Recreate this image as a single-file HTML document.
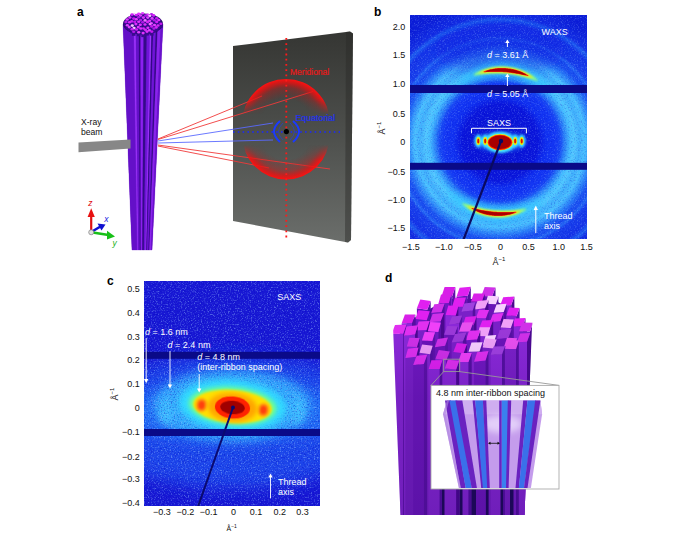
<!DOCTYPE html>
<html><head><meta charset="utf-8">
<style>
html,body{margin:0;padding:0;background:#fff;width:681px;height:536px;overflow:hidden}
svg{display:block;font-family:"Liberation Sans",sans-serif}
</style></head><body>
<svg width="681" height="536" viewBox="0 0 681 536">
<defs>
  <filter id="b1" filterUnits="userSpaceOnUse" x="0" y="0" width="681" height="536"><feGaussianBlur stdDeviation="1"/></filter>
  <filter id="b2" filterUnits="userSpaceOnUse" x="0" y="0" width="681" height="536"><feGaussianBlur stdDeviation="2"/></filter>
  <filter id="b3" filterUnits="userSpaceOnUse" x="0" y="0" width="681" height="536"><feGaussianBlur stdDeviation="3"/></filter>
  <filter id="b5" filterUnits="userSpaceOnUse" x="0" y="0" width="681" height="536"><feGaussianBlur stdDeviation="5"/></filter>
  <filter id="b8" filterUnits="userSpaceOnUse" x="0" y="0" width="681" height="536"><feGaussianBlur stdDeviation="8"/></filter>
  <linearGradient id="scr" x1="0" y1="0" x2="0" y2="1">
    <stop offset="0" stop-color="#353633"/><stop offset="0.5" stop-color="#4e504d"/><stop offset="1" stop-color="#6b6e6b"/>
  </linearGradient>
  <clipPath id="cb"><rect x="410" y="15" width="177" height="224"/></clipPath>
  <clipPath id="cc"><rect x="144" y="281" width="176" height="225"/></clipPath>
  <radialGradient id="rgB" gradientUnits="userSpaceOnUse" cx="500" cy="142" r="140">
    <stop offset="0" stop-color="#0a12d0"/>
    <stop offset="0.27" stop-color="#0a16dc"/>
    <stop offset="0.33" stop-color="#1030f0"/>
    <stop offset="0.40" stop-color="#1438f4"/>
    <stop offset="0.43" stop-color="#1848f4"/>
    <stop offset="0.46" stop-color="#2a80f8"/>
    <stop offset="0.50" stop-color="#44bcff"/>
    <stop offset="0.53" stop-color="#50c8ff"/>
    <stop offset="0.57" stop-color="#40b0fc"/>
    <stop offset="0.61" stop-color="#48c0ff"/>
    <stop offset="0.66" stop-color="#2a80f8"/>
    <stop offset="0.70" stop-color="#1a50f0"/>
    <stop offset="0.72" stop-color="#1a50f0"/>
    <stop offset="0.74" stop-color="#2468f4"/>
    <stop offset="0.76" stop-color="#1840ec"/>
    <stop offset="0.84" stop-color="#1434e8"/>
    <stop offset="0.875" stop-color="#2060f0"/>
    <stop offset="0.9" stop-color="#1430e4"/>
    <stop offset="1" stop-color="#0c1ed8"/>
  </radialGradient>
  <filter id="noise" filterUnits="userSpaceOnUse" x="0" y="0" width="681" height="536">
    <feTurbulence type="fractalNoise" baseFrequency="0.9" numOctaves="1" seed="4" result="t"/>
    <feColorMatrix in="t" type="matrix" values="0 0 0 0 1  0 0 0 0 1  0 0 0 0 1  0 0 0 -2.2 1.35" />
  </filter>
  <clipPath id="cd"><polygon points="385,280 540,280 532,326 524.5,515 400.5,515 393,326"/></clipPath>
  <radialGradient id="domeT" gradientUnits="userSpaceOnUse" cx="286" cy="123" r="44">
    <stop offset="0.55" stop-color="#c01010" stop-opacity="0"/>
    <stop offset="0.8" stop-color="#d81010" stop-opacity="0.35"/>
    <stop offset="0.9" stop-color="#e81010" stop-opacity="0.75"/>
    <stop offset="1" stop-color="#ff1010" stop-opacity="1"/>
  </radialGradient>
  <radialGradient id="domeB" gradientUnits="userSpaceOnUse" cx="286" cy="136" r="43.5">
    <stop offset="0.55" stop-color="#c01010" stop-opacity="0"/>
    <stop offset="0.8" stop-color="#d81010" stop-opacity="0.35"/>
    <stop offset="0.9" stop-color="#e81010" stop-opacity="0.75"/>
    <stop offset="1" stop-color="#ff1010" stop-opacity="1"/>
  </radialGradient>
  <linearGradient id="lgT" x1="0" y1="0" x2="0" y2="1"><stop offset="0" stop-color="#fff"/><stop offset="0.45" stop-color="#fff"/><stop offset="0.8" stop-color="#000"/></linearGradient>
  <linearGradient id="lgB" x1="0" y1="1" x2="0" y2="0"><stop offset="0" stop-color="#fff"/><stop offset="0.45" stop-color="#fff"/><stop offset="0.8" stop-color="#000"/></linearGradient>
  <mask id="mT" maskUnits="userSpaceOnUse" x="230" y="70" width="120" height="60"><rect x="230" y="79" width="120" height="44" fill="url(#lgT)"/></mask>
  <mask id="mB" maskUnits="userSpaceOnUse" x="230" y="130" width="120" height="60"><rect x="230" y="136" width="120" height="44" fill="url(#lgB)"/></mask>
  <filter id="b05" filterUnits="userSpaceOnUse" x="0" y="0" width="681" height="536"><feGaussianBlur stdDeviation="0.5"/></filter>
  <filter id="nz1" filterUnits="userSpaceOnUse" x="0" y="0" width="681" height="536">
    <feTurbulence type="fractalNoise" baseFrequency="0.7" numOctaves="2" seed="9" result="t"/>
    <feColorMatrix in="t" type="matrix" values="0 0 0 0 0.35  0 0 0 0 0.6  0 0 0 0 1  4 0 0 0 -2.1"/>
  </filter>
  <filter id="nz2" filterUnits="userSpaceOnUse" x="0" y="0" width="681" height="536">
    <feTurbulence type="fractalNoise" baseFrequency="0.7" numOctaves="2" seed="21" result="t"/>
    <feColorMatrix in="t" type="matrix" values="0 0 0 0 0  0 0 0 0 0  0 0 0 0 0.5  -4 0 0 0 1.9"/>
  </filter>
  <linearGradient id="dkD" gradientUnits="userSpaceOnUse" x1="0" y1="330" x2="0" y2="520"><stop offset="0" stop-color="#200060" stop-opacity="0"/><stop offset="0.35" stop-color="#200060" stop-opacity="0.15"/><stop offset="1" stop-color="#200060" stop-opacity="0.25"/></linearGradient>
</defs>

<!-- ============ PANEL A ============ -->
<text x="77" y="15.5" font-weight="bold" font-size="12" fill="#000">a</text>
<text x="81" y="124.5" font-size="8.6" fill="#111">X-ray</text>
<text x="81" y="135" font-size="8.6" fill="#111">beam</text>

<!-- screen -->
<polygon points="233,46 350,31.5 353,33.5 351,240 348,242.5 233,221" fill="url(#scr)"/>
<polygon points="346,32 350,31.5 353,33.5 351,240 348,242.5 345,242" fill="#2a2b29" opacity="0.45"/>

<!-- bundle -->
<polygon points="123,24 163,24 152,250 132,250" fill="#6010c0"/>
<polygon points="123.00,24.00 133.80,24.00 137.40,250.00 132.00,250.00" fill="#6410c8" stroke="#6410c8" stroke-width="0.3"/>
<polygon points="133.80,24.00 135.80,24.00 138.40,250.00 137.40,250.00" fill="#9a30f8" stroke="#9a30f8" stroke-width="0.3"/>
<polygon points="135.80,24.00 139.00,24.00 140.00,250.00 138.40,250.00" fill="#6410c8" stroke="#6410c8" stroke-width="0.3"/>
<polygon points="139.00,24.00 140.60,24.00 140.80,250.00 140.00,250.00" fill="#2c0878" stroke="#2c0878" stroke-width="0.3"/>
<polygon points="140.60,24.00 143.80,24.00 142.40,250.00 140.80,250.00" fill="#8c20f0" stroke="#8c20f0" stroke-width="0.3"/>
<polygon points="143.80,24.00 147.00,24.00 144.00,250.00 142.40,250.00" fill="#340a88" stroke="#340a88" stroke-width="0.3"/>
<polygon points="147.00,24.00 150.20,24.00 145.60,250.00 144.00,250.00" fill="#7014d8" stroke="#7014d8" stroke-width="0.3"/>
<polygon points="150.20,24.00 151.80,24.00 146.40,250.00 145.60,250.00" fill="#a038ff" stroke="#a038ff" stroke-width="0.3"/>
<polygon points="151.80,24.00 153.40,24.00 147.20,250.00 146.40,250.00" fill="#300880" stroke="#300880" stroke-width="0.3"/>
<polygon points="153.40,24.00 156.20,24.00 148.60,250.00 147.20,250.00" fill="#7014d8" stroke="#7014d8" stroke-width="0.3"/>
<polygon points="156.20,24.00 157.80,24.00 149.40,250.00 148.60,250.00" fill="#300880" stroke="#300880" stroke-width="0.3"/>
<polygon points="157.80,24.00 161.00,24.00 151.00,250.00 149.40,250.00" fill="#8a24ec" stroke="#8a24ec" stroke-width="0.3"/>
<polygon points="161.00,24.00 163.00,24.00 152.00,250.00 151.00,250.00" fill="#6a12cc" stroke="#6a12cc" stroke-width="0.3"/>
<ellipse cx="143" cy="24" rx="20" ry="10.5" fill="#2a0870"/>
<rect x="140.8" y="13.2" width="3.6" height="4" fill="#3a0a90"/>
<ellipse cx="142.6" cy="13.2" rx="1.6" ry="1.3" fill="#e040ff"/>
<rect x="136.9" y="13.9" width="3.6" height="4" fill="#3a0a90"/>
<ellipse cx="138.7" cy="13.9" rx="1.6" ry="1.3" fill="#e030ff"/>
<rect x="149.7" y="14.2" width="3.6" height="4" fill="#3a0a90"/>
<ellipse cx="151.5" cy="14.2" rx="1.6" ry="1.3" fill="#b018e8"/>
<rect x="132.4" y="14.2" width="3.6" height="4" fill="#3a0a90"/>
<ellipse cx="134.2" cy="14.2" rx="1.6" ry="1.3" fill="#f8c0ff"/>
<rect x="130.2" y="14.6" width="3.6" height="4" fill="#3a0a90"/>
<ellipse cx="132.0" cy="14.6" rx="1.6" ry="1.3" fill="#d020f8"/>
<rect x="145.9" y="14.8" width="3.6" height="4" fill="#3a0a90"/>
<ellipse cx="147.7" cy="14.8" rx="1.6" ry="1.3" fill="#e030ff"/>
<rect x="134.6" y="15.0" width="3.6" height="4" fill="#3a0a90"/>
<ellipse cx="136.4" cy="15.0" rx="1.6" ry="1.3" fill="#d020f8"/>
<rect x="151.8" y="15.4" width="3.6" height="4" fill="#3a0a90"/>
<ellipse cx="153.6" cy="15.4" rx="1.6" ry="1.3" fill="#d020f8"/>
<rect x="138.7" y="15.5" width="3.6" height="4" fill="#3a0a90"/>
<ellipse cx="140.5" cy="15.5" rx="1.6" ry="1.3" fill="#e040ff"/>
<rect x="143.8" y="15.5" width="3.6" height="4" fill="#3a0a90"/>
<ellipse cx="145.6" cy="15.5" rx="1.6" ry="1.3" fill="#b018e8"/>
<rect x="148.0" y="15.8" width="3.6" height="4" fill="#3a0a90"/>
<ellipse cx="149.8" cy="15.8" rx="1.6" ry="1.3" fill="#f8c0ff"/>
<rect x="136.8" y="17.2" width="3.6" height="4" fill="#3a0a90"/>
<ellipse cx="138.6" cy="17.2" rx="1.6" ry="1.3" fill="#b018e8"/>
<rect x="128.1" y="17.5" width="3.6" height="4" fill="#3a0a90"/>
<ellipse cx="129.9" cy="17.5" rx="1.6" ry="1.3" fill="#e030ff"/>
<rect x="141.6" y="17.6" width="3.6" height="4" fill="#3a0a90"/>
<ellipse cx="143.4" cy="17.6" rx="1.6" ry="1.3" fill="#e030ff"/>
<rect x="146.0" y="17.6" width="3.6" height="4" fill="#3a0a90"/>
<ellipse cx="147.8" cy="17.6" rx="1.6" ry="1.3" fill="#e040ff"/>
<rect x="154.8" y="18.3" width="3.6" height="4" fill="#3a0a90"/>
<ellipse cx="156.6" cy="18.3" rx="1.6" ry="1.3" fill="#c818f0"/>
<rect x="150.3" y="18.4" width="3.6" height="4" fill="#3a0a90"/>
<ellipse cx="152.1" cy="18.4" rx="1.6" ry="1.3" fill="#e040ff"/>
<rect x="131.9" y="18.6" width="3.6" height="4" fill="#3a0a90"/>
<ellipse cx="133.7" cy="18.6" rx="1.6" ry="1.3" fill="#c818f0"/>
<rect x="134.5" y="19.3" width="3.6" height="4" fill="#3a0a90"/>
<ellipse cx="136.3" cy="19.3" rx="1.6" ry="1.3" fill="#e040ff"/>
<rect x="125.4" y="19.5" width="3.6" height="4" fill="#3a0a90"/>
<ellipse cx="127.2" cy="19.5" rx="1.6" ry="1.3" fill="#e040ff"/>
<rect x="157.0" y="20.0" width="3.6" height="4" fill="#3a0a90"/>
<ellipse cx="158.8" cy="20.0" rx="1.6" ry="1.3" fill="#e030ff"/>
<rect x="138.8" y="20.1" width="3.6" height="4" fill="#3a0a90"/>
<ellipse cx="140.6" cy="20.1" rx="1.6" ry="1.3" fill="#b018e8"/>
<rect x="152.6" y="20.2" width="3.6" height="4" fill="#3a0a90"/>
<ellipse cx="154.4" cy="20.2" rx="1.6" ry="1.3" fill="#b018e8"/>
<rect x="143.3" y="20.4" width="3.6" height="4" fill="#3a0a90"/>
<ellipse cx="145.1" cy="20.4" rx="1.6" ry="1.3" fill="#f070ff"/>
<rect x="147.9" y="20.8" width="3.6" height="4" fill="#3a0a90"/>
<ellipse cx="149.7" cy="20.8" rx="1.6" ry="1.3" fill="#e030ff"/>
<rect x="129.9" y="21.4" width="3.6" height="4" fill="#3a0a90"/>
<ellipse cx="131.7" cy="21.4" rx="1.6" ry="1.3" fill="#d020f8"/>
<rect x="136.9" y="21.7" width="3.6" height="4" fill="#3a0a90"/>
<ellipse cx="138.7" cy="21.7" rx="1.6" ry="1.3" fill="#e030ff"/>
<rect x="132.9" y="21.8" width="3.6" height="4" fill="#3a0a90"/>
<ellipse cx="134.7" cy="21.8" rx="1.6" ry="1.3" fill="#c818f0"/>
<rect x="124.1" y="21.9" width="3.6" height="4" fill="#3a0a90"/>
<ellipse cx="125.9" cy="21.9" rx="1.6" ry="1.3" fill="#b018e8"/>
<rect x="154.9" y="21.9" width="3.6" height="4" fill="#3a0a90"/>
<ellipse cx="156.7" cy="21.9" rx="1.6" ry="1.3" fill="#d020f8"/>
<rect x="145.7" y="21.9" width="3.6" height="4" fill="#3a0a90"/>
<ellipse cx="147.5" cy="21.9" rx="1.6" ry="1.3" fill="#d828f8"/>
<rect x="140.9" y="22.2" width="3.6" height="4" fill="#3a0a90"/>
<ellipse cx="142.7" cy="22.2" rx="1.6" ry="1.3" fill="#b018e8"/>
<rect x="127.7" y="22.3" width="3.6" height="4" fill="#3a0a90"/>
<ellipse cx="129.5" cy="22.3" rx="1.6" ry="1.3" fill="#d828f8"/>
<rect x="149.6" y="23.3" width="3.6" height="4" fill="#3a0a90"/>
<ellipse cx="151.4" cy="23.3" rx="1.6" ry="1.3" fill="#e040ff"/>
<rect x="159.1" y="23.8" width="3.6" height="4" fill="#3a0a90"/>
<ellipse cx="160.9" cy="23.8" rx="1.6" ry="1.3" fill="#c818f0"/>
<rect x="148.3" y="24.1" width="3.6" height="4" fill="#3a0a90"/>
<ellipse cx="150.1" cy="24.1" rx="1.6" ry="1.3" fill="#f070ff"/>
<rect x="134.1" y="24.1" width="3.6" height="4" fill="#3a0a90"/>
<ellipse cx="135.9" cy="24.1" rx="1.6" ry="1.3" fill="#e030ff"/>
<rect x="143.2" y="24.5" width="3.6" height="4" fill="#3a0a90"/>
<ellipse cx="145.0" cy="24.5" rx="1.6" ry="1.3" fill="#e030ff"/>
<rect x="138.5" y="24.8" width="3.6" height="4" fill="#3a0a90"/>
<ellipse cx="140.3" cy="24.8" rx="1.6" ry="1.3" fill="#e030ff"/>
<rect x="152.7" y="25.0" width="3.6" height="4" fill="#3a0a90"/>
<ellipse cx="154.5" cy="25.0" rx="1.6" ry="1.3" fill="#e040ff"/>
<rect x="125.5" y="25.3" width="3.6" height="4" fill="#3a0a90"/>
<ellipse cx="127.3" cy="25.3" rx="1.6" ry="1.3" fill="#e040ff"/>
<rect x="156.2" y="25.5" width="3.6" height="4" fill="#3a0a90"/>
<ellipse cx="158.0" cy="25.5" rx="1.6" ry="1.3" fill="#d828f8"/>
<rect x="130.5" y="25.6" width="3.6" height="4" fill="#3a0a90"/>
<ellipse cx="132.3" cy="25.6" rx="1.6" ry="1.3" fill="#f8c0ff"/>
<rect x="149.9" y="26.4" width="3.6" height="4" fill="#3a0a90"/>
<ellipse cx="151.7" cy="26.4" rx="1.6" ry="1.3" fill="#c818f0"/>
<rect x="136.5" y="27.1" width="3.6" height="4" fill="#3a0a90"/>
<ellipse cx="138.3" cy="27.1" rx="1.6" ry="1.3" fill="#e030ff"/>
<rect x="127.5" y="27.1" width="3.6" height="4" fill="#3a0a90"/>
<ellipse cx="129.3" cy="27.1" rx="1.6" ry="1.3" fill="#e040ff"/>
<rect x="154.4" y="27.4" width="3.6" height="4" fill="#3a0a90"/>
<ellipse cx="156.2" cy="27.4" rx="1.6" ry="1.3" fill="#d828f8"/>
<rect x="146.1" y="27.8" width="3.6" height="4" fill="#3a0a90"/>
<ellipse cx="147.9" cy="27.8" rx="1.6" ry="1.3" fill="#e030ff"/>
<rect x="132.3" y="28.1" width="3.6" height="4" fill="#3a0a90"/>
<ellipse cx="134.1" cy="28.1" rx="1.6" ry="1.3" fill="#f8c0ff"/>
<rect x="152.2" y="28.5" width="3.6" height="4" fill="#3a0a90"/>
<ellipse cx="154.0" cy="28.5" rx="1.6" ry="1.3" fill="#b018e8"/>
<rect x="141.6" y="28.5" width="3.6" height="4" fill="#3a0a90"/>
<ellipse cx="143.4" cy="28.5" rx="1.6" ry="1.3" fill="#d828f8"/>
<rect x="139.0" y="28.5" width="3.6" height="4" fill="#3a0a90"/>
<ellipse cx="140.8" cy="28.5" rx="1.6" ry="1.3" fill="#e030ff"/>
<rect x="130.3" y="29.3" width="3.6" height="4" fill="#3a0a90"/>
<ellipse cx="132.1" cy="29.3" rx="1.6" ry="1.3" fill="#d020f8"/>
<rect x="134.7" y="29.5" width="3.6" height="4" fill="#3a0a90"/>
<ellipse cx="136.5" cy="29.5" rx="1.6" ry="1.3" fill="#d020f8"/>
<rect x="143.6" y="29.8" width="3.6" height="4" fill="#3a0a90"/>
<ellipse cx="145.4" cy="29.8" rx="1.6" ry="1.3" fill="#d828f8"/>
<rect x="147.6" y="30.3" width="3.6" height="4" fill="#3a0a90"/>
<ellipse cx="149.4" cy="30.3" rx="1.6" ry="1.3" fill="#e040ff"/>
<rect x="145.2" y="31.6" width="3.6" height="4" fill="#3a0a90"/>
<ellipse cx="147.0" cy="31.6" rx="1.6" ry="1.3" fill="#e030ff"/>
<rect x="150.0" y="31.6" width="3.6" height="4" fill="#3a0a90"/>
<ellipse cx="151.8" cy="31.6" rx="1.6" ry="1.3" fill="#c818f0"/>
<rect x="131.9" y="31.8" width="3.6" height="4" fill="#3a0a90"/>
<ellipse cx="133.7" cy="31.8" rx="1.6" ry="1.3" fill="#b018e8"/>
<rect x="136.9" y="32.2" width="3.6" height="4" fill="#3a0a90"/>
<ellipse cx="138.7" cy="32.2" rx="1.6" ry="1.3" fill="#e040ff"/>
<rect x="141.3" y="33.1" width="3.6" height="4" fill="#3a0a90"/>
<ellipse cx="143.1" cy="33.1" rx="1.6" ry="1.3" fill="#e030ff"/>

<polygon points="78.5,142.4 130.5,139.6 130.5,148.6 78.5,152.3" fill="#878787"/>
<!-- beam lines -->
<g stroke-width="0.9" fill="none" opacity="1">
  <line x1="158" y1="139" x2="262" y2="96" stroke="#f03a3a"/>
  <line x1="158" y1="139.5" x2="313" y2="91.5" stroke="#f03a3a"/>
  <line x1="158" y1="145" x2="330" y2="169" stroke="#f03a3a"/>
  <line x1="158" y1="146" x2="269" y2="168" stroke="#f03a3a"/>
  <line x1="158" y1="141" x2="273" y2="123" stroke="#5a6aff"/>
  <line x1="158" y1="143" x2="273" y2="140" stroke="#5a6aff"/>
</g>
<!-- red domes -->
<path d="M242,123 A44,44 0 0 1 330,123 Z" fill="url(#domeT)" mask="url(#mT)"/>
<path d="M242.5,136 A43.5,43.5 0 0 0 329.5,136 Z" fill="url(#domeB)" mask="url(#mB)"/>
<!-- vertical red dotted -->
<line x1="286.3" y1="38" x2="286.3" y2="238" stroke="#ff1a1a" stroke-width="1.8" stroke-dasharray="1.8,3.4"/>
<text x="290" y="74.5" font-size="8.5" fill="#e81818" stroke="#e81818" stroke-width="0.2">Meridional</text>
<!-- blue -->
<line x1="233" y1="132" x2="340" y2="132" stroke="#1a2aff" stroke-width="1.6" stroke-dasharray="1.6,3.2"/>
<text x="295.5" y="121" font-size="8.8" fill="#2030f0" stroke="#2030f0" stroke-width="0.2">Equatorial</text>
<path d="M280,121 Q268,131.5 280,142" stroke="#1a3aff" stroke-width="2" fill="none"/><path d="M283,123 Q274,131.5 283,140" stroke="#1a3aff" stroke-width="0.8" fill="none" opacity="0.7"/>
<path d="M293,121 Q305,131.5 293,142" stroke="#1a3aff" stroke-width="2" fill="none"/><path d="M290,123 Q299,131.5 290,140" stroke="#1a3aff" stroke-width="0.8" fill="none" opacity="0.7"/>
<circle cx="286.4" cy="131.6" r="2.6" fill="#000"/>

<!-- triad -->
<line x1="91.2" y1="232" x2="91.2" y2="215" stroke="#e01010" stroke-width="2.2"/>
<polygon points="87.6,217 94.8,217 91.2,208.3" fill="#e81010"/>
<line x1="91.2" y1="232" x2="100.5" y2="226.5" stroke="#1010d0" stroke-width="2.6"/>
<polygon points="97.5,223.5 105.5,224.5 101.5,230.5" fill="#1010d0"/>
<line x1="91.2" y1="232.3" x2="108.5" y2="235" stroke="#18c018" stroke-width="2.6"/>
<polygon points="107,230.8 115,236.4 107,239.5" fill="#18c018"/>
<circle cx="91.2" cy="232.3" r="2.5" fill="#e0e0e0" stroke="#808080" stroke-width="0.7"/>
<text x="88.3" y="206" font-size="8.5" font-style="italic" fill="#e01010">z</text>
<text x="104.3" y="222.3" font-size="8.5" font-style="italic" fill="#1a1ae0">x</text>
<text x="112.5" y="245.5" font-size="8.5" font-style="italic" fill="#20b020">y</text>

<!-- ============ PANEL B ============ -->
<text x="374" y="16" font-weight="bold" font-size="12" fill="#000">b</text>
<g clip-path="url(#cb)">
  <rect x="410" y="15" width="177" height="224" fill="url(#rgB)"/>
  <!-- dim top-center of broad ring -->
  <ellipse cx="500" cy="50" rx="65" ry="26" fill="#0c1ce0" opacity="0.55" filter="url(#b8)"/>
    <rect x="410" y="15" width="177" height="224" filter="url(#nz1)" opacity="0.25"/>
  <rect x="410" y="15" width="177" height="224" filter="url(#nz2)" opacity="0.2"/>
<!-- arcs -->
<path d="M456.67,84.50 L457.81,81.52 L459.57,79.27 L461.53,77.22 L463.64,75.31 L465.87,73.54 L468.20,71.89 L470.62,70.37 L473.13,68.97 L475.71,67.69 L478.36,66.54 L481.07,65.52 L483.84,64.63 L486.64,63.86 L489.49,63.23 L492.37,62.74 L495.27,62.38 L498.19,62.15 L501.12,62.07 L504.05,62.12 L506.97,62.30 L509.89,62.63 L512.78,63.09 L515.65,63.68 L518.48,64.41 L521.28,65.27 L524.03,66.25 L526.72,67.37 L529.35,68.61 L531.92,69.97 L534.41,71.45 L536.82,73.04 L539.14,74.75 L541.37,76.56 L543.49,78.48 L545.50,80.51 L547.39,82.64 L549.13,84.88 L550.71,87.24 L552.05,89.77 L552.66,92.90 L552.66,92.90 L549.60,92.23 L547.13,91.10 L544.77,89.95 L542.45,88.82 L540.15,87.74 L537.86,86.70 L535.58,85.72 L533.29,84.80 L531.00,83.93 L528.71,83.13 L526.42,82.38 L524.12,81.69 L521.82,81.06 L519.51,80.49 L517.20,79.97 L514.89,79.51 L512.57,79.11 L510.24,78.76 L507.91,78.48 L505.58,78.24 L503.24,78.07 L500.89,77.95 L498.54,77.88 L496.19,77.88 L493.83,77.93 L491.46,78.03 L489.09,78.20 L486.72,78.42 L484.33,78.70 L481.95,79.04 L479.55,79.43 L477.15,79.89 L474.74,80.40 L472.31,80.97 L469.88,81.59 L467.43,82.26 L464.95,82.96 L462.42,83.69 L459.80,84.37 L456.67,84.50 Z" fill="#30c8ff" opacity="0.7" filter="url(#b3)"/>
<path d="M473.03,75.24 L474.34,73.91 L475.82,72.96 L477.36,72.11 L478.94,71.34 L480.54,70.64 L482.18,69.99 L483.84,69.41 L485.52,68.88 L487.22,68.40 L488.94,67.98 L490.67,67.61 L492.41,67.30 L494.17,67.05 L495.93,66.84 L497.70,66.70 L499.47,66.61 L501.25,66.57 L503.03,66.59 L504.81,66.66 L506.58,66.79 L508.35,66.97 L510.11,67.21 L511.87,67.50 L513.61,67.84 L515.34,68.24 L517.06,68.69 L518.76,69.20 L520.44,69.75 L522.11,70.36 L523.75,71.02 L525.37,71.74 L526.96,72.50 L528.52,73.32 L530.05,74.18 L531.55,75.10 L533.01,76.07 L534.43,77.11 L535.80,78.21 L537.09,79.40 L538.15,80.94 L538.15,80.94 L536.32,80.71 L534.67,80.21 L533.06,79.69 L531.46,79.17 L529.87,78.66 L528.29,78.17 L526.70,77.69 L525.12,77.24 L523.53,76.82 L521.94,76.42 L520.36,76.04 L518.76,75.69 L517.17,75.36 L515.58,75.05 L513.98,74.78 L512.38,74.52 L510.78,74.30 L509.18,74.09 L507.58,73.91 L505.97,73.76 L504.36,73.63 L502.75,73.53 L501.14,73.45 L499.52,73.40 L497.90,73.37 L496.28,73.37 L494.66,73.39 L493.04,73.43 L491.41,73.51 L489.78,73.60 L488.15,73.72 L486.51,73.87 L484.87,74.03 L483.23,74.22 L481.58,74.43 L479.92,74.66 L478.26,74.90 L476.58,75.13 L474.88,75.34 L473.03,75.24 Z" fill="#90ff80" filter="url(#b1)"/>
<path d="M478.95,73.15 L480.12,72.21 L481.39,71.56 L482.69,70.99 L484.01,70.48 L485.35,70.01 L486.71,69.59 L488.08,69.21 L489.46,68.87 L490.85,68.56 L492.25,68.29 L493.66,68.07 L495.08,67.87 L496.50,67.72 L497.92,67.60 L499.35,67.52 L500.78,67.48 L502.21,67.48 L503.64,67.51 L505.07,67.58 L506.50,67.68 L507.93,67.83 L509.35,68.01 L510.76,68.22 L512.17,68.48 L513.57,68.77 L514.97,69.09 L516.35,69.46 L517.72,69.85 L519.08,70.29 L520.43,70.76 L521.76,71.26 L523.08,71.81 L524.38,72.38 L525.66,73.00 L526.92,73.65 L528.16,74.34 L529.38,75.08 L530.56,75.86 L531.70,76.72 L532.69,77.85 L532.69,77.85 L531.20,77.74 L529.84,77.42 L528.50,77.07 L527.18,76.72 L525.85,76.37 L524.53,76.03 L523.21,75.71 L521.90,75.40 L520.58,75.10 L519.26,74.82 L517.95,74.55 L516.63,74.30 L515.31,74.07 L513.99,73.85 L512.67,73.64 L511.35,73.46 L510.02,73.28 L508.70,73.13 L507.38,72.99 L506.05,72.86 L504.72,72.76 L503.39,72.66 L502.06,72.59 L500.73,72.53 L499.39,72.48 L498.06,72.45 L496.72,72.44 L495.38,72.44 L494.04,72.46 L492.69,72.49 L491.35,72.54 L490.00,72.61 L488.65,72.68 L487.29,72.78 L485.94,72.88 L484.57,72.99 L483.20,73.10 L481.83,73.21 L480.43,73.30 L478.95,73.15 Z" fill="#ffe000" filter="url(#b1)"/>
<path d="M483.19,71.99 L484.23,71.28 L485.32,70.81 L486.44,70.40 L487.57,70.03 L488.71,69.70 L489.86,69.40 L491.02,69.13 L492.19,68.89 L493.36,68.68 L494.54,68.50 L495.72,68.34 L496.91,68.22 L498.10,68.12 L499.29,68.04 L500.48,68.00 L501.68,67.98 L502.88,67.99 L504.07,68.03 L505.27,68.09 L506.46,68.18 L507.65,68.30 L508.84,68.44 L510.02,68.62 L511.20,68.81 L512.37,69.04 L513.54,69.29 L514.70,69.57 L515.86,69.87 L517.00,70.20 L518.14,70.56 L519.27,70.95 L520.39,71.36 L521.50,71.80 L522.59,72.26 L523.67,72.76 L524.74,73.28 L525.79,73.84 L526.82,74.44 L527.82,75.10 L528.71,75.97 L528.71,75.97 L527.47,75.94 L526.31,75.72 L525.17,75.48 L524.04,75.23 L522.91,74.99 L521.79,74.75 L520.66,74.52 L519.54,74.29 L518.42,74.07 L517.30,73.87 L516.18,73.67 L515.06,73.49 L513.94,73.31 L512.82,73.14 L511.70,72.99 L510.58,72.84 L509.46,72.71 L508.34,72.58 L507.22,72.47 L506.09,72.37 L504.97,72.27 L503.84,72.19 L502.72,72.12 L501.59,72.06 L500.46,72.00 L499.33,71.96 L498.20,71.93 L497.06,71.91 L495.93,71.90 L494.79,71.90 L493.65,71.91 L492.51,71.93 L491.37,71.95 L490.22,71.99 L489.07,72.03 L487.92,72.07 L486.76,72.12 L485.60,72.16 L484.42,72.17 L483.19,71.99 Z" fill="#ff2800" filter="url(#b05)"/>
<path d="M485.65,71.45 L486.58,70.81 L487.57,70.44 L488.58,70.13 L489.60,69.86 L490.63,69.61 L491.66,69.40 L492.70,69.21 L493.75,69.04 L494.79,68.90 L495.84,68.77 L496.89,68.67 L497.95,68.59 L499.01,68.53 L500.06,68.49 L501.12,68.47 L502.18,68.47 L503.24,68.49 L504.30,68.54 L505.36,68.60 L506.41,68.68 L507.47,68.78 L508.52,68.90 L509.57,69.05 L510.62,69.21 L511.66,69.39 L512.70,69.60 L513.74,69.82 L514.77,70.06 L515.79,70.32 L516.81,70.61 L517.82,70.91 L518.83,71.24 L519.83,71.58 L520.82,71.95 L521.80,72.34 L522.77,72.76 L523.72,73.20 L524.66,73.68 L525.58,74.22 L526.39,75.01 L526.39,75.01 L525.26,75.06 L524.23,74.87 L523.22,74.66 L522.21,74.45 L521.21,74.23 L520.20,74.02 L519.20,73.81 L518.20,73.61 L517.20,73.41 L516.19,73.23 L515.19,73.05 L514.19,72.88 L513.18,72.72 L512.18,72.57 L511.17,72.43 L510.17,72.30 L509.16,72.18 L508.15,72.06 L507.15,71.96 L506.14,71.87 L505.13,71.78 L504.11,71.71 L503.10,71.65 L502.09,71.59 L501.08,71.55 L500.06,71.51 L499.05,71.48 L498.03,71.47 L497.01,71.46 L495.99,71.46 L494.98,71.47 L493.95,71.49 L492.93,71.51 L491.91,71.54 L490.88,71.58 L489.86,71.62 L488.83,71.65 L487.79,71.68 L486.75,71.69 L485.65,71.45 Z" fill="#a80000"/>
<path d="M543.33,199.50 L542.19,202.48 L540.43,204.73 L538.47,206.78 L536.36,208.69 L534.13,210.46 L531.80,212.11 L529.38,213.63 L526.87,215.03 L524.29,216.31 L521.64,217.46 L518.93,218.48 L516.16,219.37 L513.36,220.14 L510.51,220.77 L507.63,221.26 L504.73,221.62 L501.81,221.85 L498.88,221.93 L495.95,221.88 L493.03,221.70 L490.11,221.37 L487.22,220.91 L484.35,220.32 L481.52,219.59 L478.72,218.73 L475.97,217.75 L473.28,216.63 L470.65,215.39 L468.08,214.03 L465.59,212.55 L463.18,210.96 L460.86,209.25 L458.63,207.44 L456.51,205.52 L454.50,203.49 L452.61,201.36 L450.87,199.12 L449.29,196.76 L447.95,194.23 L447.34,191.10 L447.34,191.10 L450.40,191.77 L452.87,192.90 L455.23,194.05 L457.55,195.18 L459.85,196.26 L462.14,197.30 L464.42,198.28 L466.71,199.20 L469.00,200.07 L471.29,200.87 L473.58,201.62 L475.88,202.31 L478.18,202.94 L480.49,203.51 L482.80,204.03 L485.11,204.49 L487.43,204.89 L489.76,205.24 L492.09,205.52 L494.42,205.76 L496.76,205.93 L499.11,206.05 L501.46,206.12 L503.81,206.12 L506.17,206.07 L508.54,205.97 L510.91,205.80 L513.28,205.58 L515.67,205.30 L518.05,204.96 L520.45,204.57 L522.85,204.11 L525.26,203.60 L527.69,203.03 L530.12,202.41 L532.57,201.74 L535.05,201.04 L537.58,200.31 L540.20,199.63 L543.33,199.50 Z" fill="#30c8ff" opacity="0.7" filter="url(#b3)"/>
<path d="M526.97,208.76 L525.66,210.09 L524.18,211.04 L522.64,211.89 L521.06,212.66 L519.46,213.36 L517.82,214.01 L516.16,214.59 L514.48,215.12 L512.78,215.60 L511.06,216.02 L509.33,216.39 L507.59,216.70 L505.83,216.95 L504.07,217.16 L502.30,217.30 L500.53,217.39 L498.75,217.43 L496.97,217.41 L495.19,217.34 L493.42,217.21 L491.65,217.03 L489.89,216.79 L488.13,216.50 L486.39,216.16 L484.66,215.76 L482.94,215.31 L481.24,214.80 L479.56,214.25 L477.89,213.64 L476.25,212.98 L474.63,212.26 L473.04,211.50 L471.48,210.68 L469.95,209.82 L468.45,208.90 L466.99,207.93 L465.57,206.89 L464.20,205.79 L462.91,204.60 L461.85,203.06 L461.85,203.06 L463.68,203.29 L465.33,203.79 L466.94,204.31 L468.54,204.83 L470.13,205.34 L471.71,205.83 L473.30,206.31 L474.88,206.76 L476.47,207.18 L478.06,207.58 L479.64,207.96 L481.24,208.31 L482.83,208.64 L484.42,208.95 L486.02,209.22 L487.62,209.48 L489.22,209.70 L490.82,209.91 L492.42,210.09 L494.03,210.24 L495.64,210.37 L497.25,210.47 L498.86,210.55 L500.48,210.60 L502.10,210.63 L503.72,210.63 L505.34,210.61 L506.96,210.57 L508.59,210.49 L510.22,210.40 L511.85,210.28 L513.49,210.13 L515.13,209.97 L516.77,209.78 L518.42,209.57 L520.08,209.34 L521.74,209.10 L523.42,208.87 L525.12,208.66 L526.97,208.76 Z" fill="#90ff80" filter="url(#b1)"/>
<path d="M521.05,210.85 L519.88,211.79 L518.61,212.44 L517.31,213.01 L515.99,213.52 L514.65,213.99 L513.29,214.41 L511.92,214.79 L510.54,215.13 L509.15,215.44 L507.75,215.71 L506.34,215.93 L504.92,216.13 L503.50,216.28 L502.08,216.40 L500.65,216.48 L499.22,216.52 L497.79,216.52 L496.36,216.49 L494.93,216.42 L493.50,216.32 L492.07,216.17 L490.65,215.99 L489.24,215.78 L487.83,215.52 L486.43,215.23 L485.03,214.91 L483.65,214.54 L482.28,214.15 L480.92,213.71 L479.57,213.24 L478.24,212.74 L476.92,212.19 L475.62,211.62 L474.34,211.00 L473.08,210.35 L471.84,209.66 L470.62,208.92 L469.44,208.14 L468.30,207.28 L467.31,206.15 L467.31,206.15 L468.80,206.26 L470.16,206.58 L471.50,206.93 L472.82,207.28 L474.15,207.63 L475.47,207.97 L476.79,208.29 L478.10,208.60 L479.42,208.90 L480.74,209.18 L482.05,209.45 L483.37,209.70 L484.69,209.93 L486.01,210.15 L487.33,210.36 L488.65,210.54 L489.98,210.72 L491.30,210.87 L492.62,211.01 L493.95,211.14 L495.28,211.24 L496.61,211.34 L497.94,211.41 L499.27,211.47 L500.61,211.52 L501.94,211.55 L503.28,211.56 L504.62,211.56 L505.96,211.54 L507.31,211.51 L508.65,211.46 L510.00,211.39 L511.35,211.32 L512.71,211.22 L514.06,211.12 L515.43,211.01 L516.80,210.90 L518.17,210.79 L519.57,210.70 L521.05,210.85 Z" fill="#ffe000" filter="url(#b1)"/>
<path d="M516.81,212.01 L515.77,212.72 L514.68,213.19 L513.56,213.60 L512.43,213.97 L511.29,214.30 L510.14,214.60 L508.98,214.87 L507.81,215.11 L506.64,215.32 L505.46,215.50 L504.28,215.66 L503.09,215.78 L501.90,215.88 L500.71,215.96 L499.52,216.00 L498.32,216.02 L497.12,216.01 L495.93,215.97 L494.73,215.91 L493.54,215.82 L492.35,215.70 L491.16,215.56 L489.98,215.38 L488.80,215.19 L487.63,214.96 L486.46,214.71 L485.30,214.43 L484.14,214.13 L483.00,213.80 L481.86,213.44 L480.73,213.05 L479.61,212.64 L478.50,212.20 L477.41,211.74 L476.33,211.24 L475.26,210.72 L474.21,210.16 L473.18,209.56 L472.18,208.90 L471.29,208.03 L471.29,208.03 L472.53,208.06 L473.69,208.28 L474.83,208.52 L475.96,208.77 L477.09,209.01 L478.21,209.25 L479.34,209.48 L480.46,209.71 L481.58,209.93 L482.70,210.13 L483.82,210.33 L484.94,210.51 L486.06,210.69 L487.18,210.86 L488.30,211.01 L489.42,211.16 L490.54,211.29 L491.66,211.42 L492.78,211.53 L493.91,211.63 L495.03,211.73 L496.16,211.81 L497.28,211.88 L498.41,211.94 L499.54,212.00 L500.67,212.04 L501.80,212.07 L502.94,212.09 L504.07,212.10 L505.21,212.10 L506.35,212.09 L507.49,212.07 L508.63,212.05 L509.78,212.01 L510.93,211.97 L512.08,211.93 L513.24,211.88 L514.40,211.84 L515.58,211.83 L516.81,212.01 Z" fill="#ff2800" filter="url(#b05)"/>
<path d="M514.35,212.55 L513.42,213.19 L512.43,213.56 L511.42,213.87 L510.40,214.14 L509.37,214.39 L508.34,214.60 L507.30,214.79 L506.25,214.96 L505.21,215.10 L504.16,215.23 L503.11,215.33 L502.05,215.41 L500.99,215.47 L499.94,215.51 L498.88,215.53 L497.82,215.53 L496.76,215.51 L495.70,215.46 L494.64,215.40 L493.59,215.32 L492.53,215.22 L491.48,215.10 L490.43,214.95 L489.38,214.79 L488.34,214.61 L487.30,214.40 L486.26,214.18 L485.23,213.94 L484.21,213.68 L483.19,213.39 L482.18,213.09 L481.17,212.76 L480.17,212.42 L479.18,212.05 L478.20,211.66 L477.23,211.24 L476.28,210.80 L475.34,210.32 L474.42,209.78 L473.61,208.99 L473.61,208.99 L474.74,208.94 L475.77,209.13 L476.78,209.34 L477.79,209.55 L478.79,209.77 L479.80,209.98 L480.80,210.19 L481.80,210.39 L482.80,210.59 L483.81,210.77 L484.81,210.95 L485.81,211.12 L486.82,211.28 L487.82,211.43 L488.83,211.57 L489.83,211.70 L490.84,211.82 L491.85,211.94 L492.85,212.04 L493.86,212.13 L494.87,212.22 L495.89,212.29 L496.90,212.35 L497.91,212.41 L498.92,212.45 L499.94,212.49 L500.95,212.52 L501.97,212.53 L502.99,212.54 L504.01,212.54 L505.02,212.53 L506.05,212.51 L507.07,212.49 L508.09,212.46 L509.12,212.42 L510.14,212.38 L511.17,212.35 L512.21,212.32 L513.25,212.31 L514.35,212.55 Z" fill="#a80000"/>

  <!-- SAXS centre -->
  <ellipse cx="500" cy="142" rx="26" ry="10" fill="#2080ff" opacity="0.6" filter="url(#b2)"/>
  <g filter="url(#b1)">
    <ellipse cx="478.3" cy="141" rx="3.6" ry="6.5" fill="#40e0ff"/><ellipse cx="485.2" cy="141" rx="3.6" ry="6.5" fill="#40e0ff"/>
    <ellipse cx="515.2" cy="141" rx="3.6" ry="6.5" fill="#40e0ff"/><ellipse cx="521.7" cy="141" rx="3.6" ry="6.5" fill="#40e0ff"/>
    <ellipse cx="500" cy="142.3" rx="16" ry="10.5" fill="#40e0ff"/>
  </g>
  <g filter="url(#b05)">
    <ellipse cx="478.3" cy="141" rx="2" ry="4" fill="#f0f000"/><ellipse cx="485.2" cy="141" rx="2" ry="4" fill="#f0f000"/>
    <ellipse cx="515.2" cy="141" rx="2" ry="4" fill="#f0f000"/><ellipse cx="521.7" cy="141" rx="2" ry="4" fill="#f0f000"/>
    <ellipse cx="500" cy="142.3" rx="13" ry="8.2" fill="#f0f000"/>
    <ellipse cx="500" cy="142.3" rx="12.2" ry="7.6" fill="#ff2000"/>
  </g>
  <g fill="#e01000">
    <ellipse cx="478.3" cy="141" rx="1.1" ry="2.6"/><ellipse cx="485.2" cy="141" rx="1.1" ry="2.6"/>
    <ellipse cx="515.2" cy="141" rx="1.1" ry="2.6"/><ellipse cx="521.7" cy="141" rx="1.1" ry="2.6"/>
  </g>
  <ellipse cx="500" cy="142.3" rx="11.2" ry="6.8" fill="#a80000"/>
  <!-- bands -->
  <rect x="410" y="85" width="177" height="8" fill="#0a0a88"/>
  <rect x="410" y="162.8" width="177" height="7" fill="#0a0a88"/>
  <!-- beam stop -->
  <line x1="501" y1="141" x2="463" y2="241" stroke="#0a0a60" stroke-width="2.2"/>
  <circle cx="501" cy="141" r="2.2" fill="#0a0a60"/>
</g>
<g fill="#fff" font-size="9">
  <text x="541.6" y="35.3">WAXS</text>
  <text x="487" y="58.2"><tspan font-style="italic">d</tspan> = 3.61 Å</text>
  <text x="487" y="96.5"><tspan font-style="italic">d</tspan> = 5.05 Å</text>
  <text x="499" y="126" text-anchor="middle">SAXS</text>
  <text x="544" y="218.8">Thread</text>
  <text x="544" y="229.4">axis</text>
</g>
<g stroke="#fff" fill="none" stroke-width="1">
  <path d="M471.5,133.3 V128.3 H526.4 V133.3"/>
  <line x1="507.4" y1="42" x2="507.4" y2="47"/>
  <line x1="507.4" y1="76" x2="507.4" y2="86"/>
  <line x1="535.8" y1="233" x2="535.8" y2="209"/>
</g>
<g fill="#fff">
  <polygon points="505.2,43 509.6,43 507.4,39.5"/>
  <polygon points="505.2,77 509.6,77 507.4,73.5"/>
  <polygon points="533.6,210 538,210 535.8,205.5"/>
</g>
<g font-size="9" fill="#111" text-anchor="end">
  <text x="405.3" y="30.2">2.0</text>
  <text x="405.3" y="57.9">1.5</text>
  <text x="405.3" y="87.2">1.0</text>
  <text x="405.3" y="117.4">0.5</text>
  <text x="405.3" y="145">0</text>
  <text x="405.3" y="174.6">−0.5</text>
  <text x="405.3" y="202.5">−1.0</text>
  <text x="405.3" y="231.2">−1.5</text>
</g>
<g font-size="9" fill="#111" text-anchor="middle">
  <text x="411" y="249.5">−1.5</text>
  <text x="443.8" y="249.5">−1.0</text>
  <text x="472.9" y="249.5">−0.5</text>
  <text x="500.6" y="249.5">0</text>
  <text x="528.4" y="249.5">0.5</text>
  <text x="558.8" y="249.5">1.0</text>
  <text x="586.5" y="249.5">1.5</text>
  <text x="499" y="264.5">Å<tspan font-size="6" dy="-3.5">−1</tspan></text>
</g>
<text transform="translate(384.5,128) rotate(-90)" font-size="9" fill="#111" text-anchor="middle">Å<tspan font-size="6" dy="-3.5">−1</tspan></text>

<!-- ============ PANEL C ============ -->
<text x="107" y="285" font-weight="bold" font-size="12" fill="#000">c</text>
<g clip-path="url(#cc)">
  <rect x="144" y="281" width="176" height="225" fill="#1818d4"/>
  <ellipse cx="232" cy="422" rx="150" ry="66" fill="#1a44ea" filter="url(#b8)"/>
  <ellipse cx="232" cy="412" rx="115" ry="30" fill="#2470f6" filter="url(#b8)"/>
  <ellipse cx="166.5" cy="411" rx="7" ry="13" fill="#50d8ff" opacity="0.85" filter="url(#b3)"/>
  <ellipse cx="297.5" cy="411" rx="7" ry="13" fill="#50d8ff" opacity="0.85" filter="url(#b3)"/>
  <ellipse cx="232" cy="405" rx="78" ry="36" fill="#38b8ff" opacity="0.8" filter="url(#b5)"/>
  <rect x="144" y="281" width="176" height="225" filter="url(#nz1)" opacity="0.4"/>
  <rect x="144" y="281" width="176" height="225" filter="url(#nz2)" opacity="0.35"/>
  <g transform="rotate(4.5 232.5 407.5)">
    <ellipse cx="232.5" cy="405.5" rx="54" ry="26" fill="#30e0ff" opacity="0.9" filter="url(#b3)"/>
    <ellipse cx="232.5" cy="406" rx="44" ry="19" fill="#70ff90" filter="url(#b2)"/>
    <ellipse cx="232.5" cy="406.5" rx="39.5" ry="16.5" fill="#ffe000" filter="url(#b1)"/>
    <ellipse cx="201.5" cy="407.5" rx="6" ry="7" fill="#ffa010" filter="url(#b1)"/>
    <ellipse cx="263.5" cy="407.5" rx="6" ry="7" fill="#ffa010" filter="url(#b1)"/>
    <ellipse cx="201.5" cy="407.5" rx="3.5" ry="4.5" fill="#ff4010" filter="url(#b1)"/>
    <ellipse cx="263.5" cy="407.5" rx="3.5" ry="4.5" fill="#ff4010" filter="url(#b1)"/>
    <ellipse cx="232.5" cy="407.5" rx="25" ry="14.5" fill="#ffa000" opacity="0.9" filter="url(#b2)"/>
    <ellipse cx="232.5" cy="407.5" rx="17.6" ry="11" fill="#ff2000" filter="url(#b05)"/>
    <ellipse cx="232.5" cy="407.5" rx="12.3" ry="6.8" fill="#a00000" filter="url(#b05)"/>
  </g>
  <rect x="144" y="351.8" width="176" height="7" fill="#0a0a88"/>
  <rect x="144" y="429" width="176" height="7" fill="#0a0a88"/>
  <line x1="233" y1="407.5" x2="197.5" y2="508" stroke="#0a0a70" stroke-width="2"/>
  <circle cx="233" cy="407.5" r="2" fill="#0a0a70"/>
</g>
<g fill="#fff" font-size="9">
  <text x="277.2" y="300">SAXS</text>
  <text x="145" y="334.8"><tspan font-style="italic">d</tspan> = 1.6 nm</text>
  <text x="167.6" y="347.6"><tspan font-style="italic">d</tspan> = 2.4 nm</text>
  <text x="197.2" y="359.6"><tspan font-style="italic">d</tspan> = 4.8 nm</text>
  <text x="197.2" y="370">(inter-ribbon spacing)</text>
  <text x="278" y="484.6">Thread</text>
  <text x="278" y="494.7">axis</text>
</g>
<g stroke="#fff" fill="none" stroke-width="0.9">
  <line x1="146.2" y1="338" x2="146.2" y2="380"/>
  <line x1="170" y1="351" x2="170" y2="385"/>
  <line x1="199.2" y1="374" x2="199.2" y2="389"/>
  <line x1="270.5" y1="498.4" x2="270.5" y2="477"/>
</g>
<g fill="#fff">
  <polygon points="144,379 148.4,379 146.2,383.2"/>
  <polygon points="167.8,384.5 172.2,384.5 170,388.5"/>
  <polygon points="197,388.5 201.4,388.5 199.2,392.5"/>
  <polygon points="268.3,477.5 272.7,477.5 270.5,473.5"/>
</g>
<g font-size="9" fill="#111" text-anchor="end">
  <text x="139.8" y="291.7">0.5</text>
  <text x="139.8" y="315.9">0.4</text>
  <text x="139.8" y="339.8">0.3</text>
  <text x="139.8" y="363.3">0.2</text>
  <text x="139.8" y="387.4">0.1</text>
  <text x="139.8" y="411.2">0</text>
  <text x="139.8" y="435.2">−0.1</text>
  <text x="139.8" y="459.7">−0.2</text>
  <text x="139.8" y="482.3">−0.3</text>
  <text x="139.8" y="505.9">−0.4</text>
</g>
<g font-size="9" fill="#111" text-anchor="middle">
  <text x="161.8" y="515.4">−0.3</text>
  <text x="185.4" y="515.4">−0.2</text>
  <text x="208.7" y="515.4">−0.1</text>
  <text x="233.4" y="515.4">0</text>
  <text x="256" y="515.4">0.1</text>
  <text x="279.7" y="515.4">0.2</text>
  <text x="302.6" y="515.4">0.3</text>
  <text x="231.7" y="530.5" font-size="7">Å<tspan font-size="5" dy="-2.5">−1</tspan></text>
</g>
<text transform="translate(117.5,394) rotate(-90)" font-size="9" fill="#111" text-anchor="middle">Å<tspan font-size="6" dy="-3.5">−1</tspan></text>

<!-- ============ PANEL D ============ -->
<text x="385" y="282" font-weight="bold" font-size="12" fill="#000">d</text>
<g clip-path="url(#cd)">
<rect x="385" y="280" width="160" height="240" fill="none"/>
<polygon points="398,336 408,322 426,311 448,299 492,299 511,309 527,331 524.5,515 400.5,515" fill="#4a0c98"/>
<polygon points="441.5,296.4 452.2,296.3 452.2,515.0 441.5,515.0" fill="#8a28d8"/>
<polygon points="452.2,296.3 455.3,287.0 455.3,515.0 452.2,515.0" fill="#5c12a8"/>
<polygon points="441.5,296.4 452.2,296.3 455.3,287.0 444.6,287.1" fill="#d820e8"/>
<polygon points="456.6,296.6 467.8,295.7 467.8,515.0 456.6,515.0" fill="#6a14b8"/>
<polygon points="467.8,295.7 470.8,286.8 470.8,515.0 467.8,515.0" fill="#5410a0"/>
<polygon points="456.6,296.6 467.8,295.7 470.8,286.8 459.6,287.7" fill="#e020f0"/>
<polygon points="481.3,296.0 492.1,296.3 492.1,515.0 481.3,515.0" fill="#6a14b8"/>
<polygon points="492.1,296.3 495.5,287.4 495.5,515.0 492.1,515.0" fill="#5410a0"/>
<polygon points="481.3,296.0 492.1,296.3 495.5,287.4 484.7,287.1" fill="#d030e8"/>
<polygon points="471.0,301.6 481.9,301.7 481.9,515.0 471.0,515.0" fill="#7a20c8"/>
<polygon points="481.9,301.7 484.6,293.6 484.6,515.0 481.9,515.0" fill="#4a0890"/>
<polygon points="471.0,301.6 481.9,301.7 484.6,293.6 473.7,293.5" fill="#d820e8"/>
<polygon points="438.5,303.2 448.8,303.1 448.8,515.0 438.5,515.0" fill="#7018c0"/>
<polygon points="448.8,303.1 451.3,294.4 451.3,515.0 448.8,515.0" fill="#5c12a8"/>
<polygon points="438.5,303.2 448.8,303.1 451.3,294.4 441.0,294.5" fill="#d820e8"/>
<polygon points="485.4,303.8 495.9,304.3 495.9,515.0 485.4,515.0" fill="#6a14b8"/>
<polygon points="495.9,304.3 498.4,296.2 498.4,515.0 495.9,515.0" fill="#5c12a8"/>
<polygon points="485.4,303.8 495.9,304.3 498.4,296.2 487.9,295.7" fill="#f8d0ff"/>
<polygon points="500.0,305.7 511.2,304.9 511.2,515.0 500.0,515.0" fill="#8424d0"/>
<polygon points="511.2,304.9 514.4,296.5 514.4,515.0 511.2,515.0" fill="#4a0890"/>
<polygon points="500.0,305.7 511.2,304.9 514.4,296.5 503.2,297.3" fill="#e020f0"/>
<polygon points="452.0,307.1 463.1,306.8 463.1,515.0 452.0,515.0" fill="#7a20c8"/>
<polygon points="463.1,306.8 466.0,297.5 466.0,515.0 463.1,515.0" fill="#5c12a8"/>
<polygon points="452.0,307.1 463.1,306.8 466.0,297.5 454.9,297.8" fill="#e020f0"/>
<polygon points="416.9,308.3 427.3,309.8 427.3,515.0 416.9,515.0" fill="#6a14b8"/>
<polygon points="427.3,309.8 430.7,301.1 430.7,515.0 427.3,515.0" fill="#5410a0"/>
<polygon points="416.9,308.3 427.3,309.8 430.7,301.1 420.3,299.6" fill="#e020f0"/>
<polygon points="474.2,309.5 485.1,308.3 485.1,515.0 474.2,515.0" fill="#8424d0"/>
<polygon points="485.1,308.3 488.4,299.9 488.4,515.0 485.1,515.0" fill="#4a0890"/>
<polygon points="474.2,309.5 485.1,308.3 488.4,299.9 477.5,301.1" fill="#f0a0f8"/>
<polygon points="461.5,311.8 472.7,310.6 472.7,515.0 461.5,515.0" fill="#7a20c8"/>
<polygon points="472.7,310.6 475.3,302.2 475.3,515.0 472.7,515.0" fill="#5410a0"/>
<polygon points="461.5,311.8 472.7,310.6 475.3,302.2 464.1,303.4" fill="#a040e0"/>
<polygon points="431.2,313.0 441.5,312.1 441.5,515.0 431.2,515.0" fill="#7018c0"/>
<polygon points="441.5,312.1 444.6,303.4 444.6,515.0 441.5,515.0" fill="#5410a0"/>
<polygon points="431.2,313.0 441.5,312.1 444.6,303.4 434.3,304.3" fill="#d030e8"/>
<polygon points="493.6,312.7 503.7,312.0 503.7,515.0 493.6,515.0" fill="#8a28d8"/>
<polygon points="503.7,312.0 506.6,303.7 506.6,515.0 503.7,515.0" fill="#5410a0"/>
<polygon points="493.6,312.7 503.7,312.0 506.6,303.7 496.5,304.4" fill="#f8d0ff"/>
<polygon points="445.6,315.1 455.7,315.4 455.7,515.0 445.6,515.0" fill="#8a28d8"/>
<polygon points="455.7,315.4 458.4,305.9 458.4,515.0 455.7,515.0" fill="#4a0890"/>
<polygon points="445.6,315.1 455.7,315.4 458.4,305.9 448.3,305.6" fill="#e020f0"/>
<polygon points="506.4,315.5 516.6,315.9 516.6,515.0 506.4,515.0" fill="#8424d0"/>
<polygon points="516.6,315.9 519.6,307.9 519.6,515.0 516.6,515.0" fill="#5410a0"/>
<polygon points="506.4,315.5 516.6,315.9 519.6,307.9 509.4,307.5" fill="#e020f0"/>
<polygon points="475.9,318.0 486.0,318.3 486.0,515.0 475.9,515.0" fill="#8424d0"/>
<polygon points="486.0,318.3 489.1,310.0 489.1,515.0 486.0,515.0" fill="#5c12a8"/>
<polygon points="475.9,318.0 486.0,318.3 489.1,310.0 479.0,309.7" fill="#e030f0"/>
<polygon points="415.4,319.1 426.8,320.2 426.8,515.0 415.4,515.0" fill="#7018c0"/>
<polygon points="426.8,320.2 429.8,311.3 429.8,515.0 426.8,515.0" fill="#5c12a8"/>
<polygon points="415.4,319.1 426.8,320.2 429.8,311.3 418.4,310.2" fill="#e020f0"/>
<polygon points="429.4,322.3 440.7,321.3 440.7,515.0 429.4,515.0" fill="#8a28d8"/>
<polygon points="440.7,321.3 444.0,312.9 444.0,515.0 440.7,515.0" fill="#4a0890"/>
<polygon points="429.4,322.3 440.7,321.3 444.0,312.9 432.7,313.9" fill="#d030e8"/>
<polygon points="489.8,322.3 500.4,321.0 500.4,515.0 489.8,515.0" fill="#7a20c8"/>
<polygon points="500.4,321.0 503.4,312.9 503.4,515.0 500.4,515.0" fill="#4a0890"/>
<polygon points="489.8,322.3 500.4,321.0 503.4,312.9 492.8,314.2" fill="#e030f0"/>
<polygon points="401.7,323.2 412.1,323.0 412.1,515.0 401.7,515.0" fill="#8a28d8"/>
<polygon points="412.1,323.0 415.3,314.4 415.3,515.0 412.1,515.0" fill="#5410a0"/>
<polygon points="401.7,323.2 412.1,323.0 415.3,314.4 404.9,314.6" fill="#d820e8"/>
<polygon points="448.8,324.5 459.0,323.6 459.0,515.0 448.8,515.0" fill="#8a28d8"/>
<polygon points="459.0,323.6 462.2,315.5 462.2,515.0 459.0,515.0" fill="#5c12a8"/>
<polygon points="448.8,324.5 459.0,323.6 462.2,315.5 452.0,316.4" fill="#9a38d8"/>
<polygon points="462.7,326.2 473.7,325.3 473.7,515.0 462.7,515.0" fill="#7a20c8"/>
<polygon points="473.7,325.3 476.5,316.0 476.5,515.0 473.7,515.0" fill="#4a0890"/>
<polygon points="462.7,326.2 473.7,325.3 476.5,316.0 465.5,316.9" fill="#d820e8"/>
<polygon points="512.3,326.6 523.0,326.2 523.0,515.0 512.3,515.0" fill="#8a28d8"/>
<polygon points="523.0,326.2 525.5,318.0 525.5,515.0 523.0,515.0" fill="#4a0890"/>
<polygon points="512.3,326.6 523.0,326.2 525.5,318.0 514.8,318.4" fill="#e020f0"/>
<polygon points="500.6,327.4 510.8,328.1 510.8,515.0 500.6,515.0" fill="#8a28d8"/>
<polygon points="510.8,328.1 513.8,319.6 513.8,515.0 510.8,515.0" fill="#5c12a8"/>
<polygon points="500.6,327.4 510.8,328.1 513.8,319.6 503.6,318.9" fill="#f0a0f8"/>
<polygon points="478.8,329.2 489.7,328.7 489.7,515.0 478.8,515.0" fill="#8424d0"/>
<polygon points="489.7,328.7 493.2,320.0 493.2,515.0 489.7,515.0" fill="#4a0890"/>
<polygon points="478.8,329.2 489.7,328.7 493.2,320.0 482.3,320.5" fill="#e020f0"/>
<polygon points="415.6,330.6 426.6,330.1 426.6,515.0 415.6,515.0" fill="#7a20c8"/>
<polygon points="426.6,330.1 429.6,321.0 429.6,515.0 426.6,515.0" fill="#4a0890"/>
<polygon points="415.6,330.6 426.6,330.1 429.6,321.0 418.6,321.5" fill="#e030f0"/>
<polygon points="427.8,331.3 438.3,332.1 438.3,515.0 427.8,515.0" fill="#7018c0"/>
<polygon points="438.3,332.1 440.8,322.7 440.8,515.0 438.3,515.0" fill="#5410a0"/>
<polygon points="427.8,331.3 438.3,332.1 440.8,322.7 430.3,321.9" fill="#f040f8"/>
<polygon points="458.9,331.8 469.9,331.5 469.9,515.0 458.9,515.0" fill="#7a20c8"/>
<polygon points="469.9,331.5 473.3,322.2 473.3,515.0 469.9,515.0" fill="#5410a0"/>
<polygon points="458.9,331.8 469.9,331.5 473.3,322.2 462.3,322.5" fill="#e850f0"/>
<polygon points="519.1,331.3 530.0,331.6 530.0,515.0 519.1,515.0" fill="#7a20c8"/>
<polygon points="530.0,331.6 532.9,322.7 532.9,515.0 530.0,515.0" fill="#4a0890"/>
<polygon points="519.1,331.3 530.0,331.6 532.9,322.7 522.0,322.4" fill="#d030e8"/>
<polygon points="391.7,334.0 403.2,333.7 403.2,515.0 391.7,515.0" fill="#8a28d8"/>
<polygon points="403.2,333.7 406.5,324.6 406.5,515.0 403.2,515.0" fill="#5410a0"/>
<polygon points="391.7,334.0 403.2,333.7 406.5,324.6 395.0,324.9" fill="#e030f0"/>
<polygon points="403.9,335.8 415.1,334.4 415.1,515.0 403.9,515.0" fill="#8a28d8"/>
<polygon points="415.1,334.4 417.7,325.2 417.7,515.0 415.1,515.0" fill="#4a0890"/>
<polygon points="403.9,335.8 415.1,334.4 417.7,325.2 406.5,326.6" fill="#e030f0"/>
<polygon points="444.0,334.7 454.4,335.0 454.4,515.0 444.0,515.0" fill="#6a14b8"/>
<polygon points="454.4,335.0 457.6,326.3 457.6,515.0 454.4,515.0" fill="#5410a0"/>
<polygon points="444.0,334.7 454.4,335.0 457.6,326.3 447.2,326.0" fill="#9a38d8"/>
<polygon points="477.1,336.1 487.7,336.2 487.7,515.0 477.1,515.0" fill="#8424d0"/>
<polygon points="487.7,336.2 490.3,327.3 490.3,515.0 487.7,515.0" fill="#5c12a8"/>
<polygon points="477.1,336.1 487.7,336.2 490.3,327.3 479.7,327.2" fill="#f0a0f8"/>
<polygon points="497.0,338.7 507.7,337.9 507.7,515.0 497.0,515.0" fill="#6a14b8"/>
<polygon points="507.7,337.9 510.4,329.3 510.4,515.0 507.7,515.0" fill="#4a0890"/>
<polygon points="497.0,338.7 507.7,337.9 510.4,329.3 499.7,330.1" fill="#9a38d8"/>
<polygon points="498.0,338.8 508.5,337.7 508.5,515.0 498.0,515.0" fill="#6a14b8"/>
<polygon points="508.5,337.7 511.6,329.2 511.6,515.0 508.5,515.0" fill="#5410a0"/>
<polygon points="498.0,338.8 508.5,337.7 511.6,329.2 501.1,330.3" fill="#9a38d8"/>
<polygon points="465.9,340.2 477.1,339.6 477.1,515.0 465.9,515.0" fill="#7018c0"/>
<polygon points="477.1,339.6 480.3,330.2 480.3,515.0 477.1,515.0" fill="#4a0890"/>
<polygon points="465.9,340.2 477.1,339.6 480.3,330.2 469.1,330.8" fill="#e030f0"/>
<polygon points="421.9,340.5 432.3,340.9 432.3,515.0 421.9,515.0" fill="#6a14b8"/>
<polygon points="432.3,340.9 435.1,332.3 435.1,515.0 432.3,515.0" fill="#5c12a8"/>
<polygon points="421.9,340.5 432.3,340.9 435.1,332.3 424.7,331.9" fill="#f040f8"/>
<polygon points="451.6,342.6 462.9,341.3 462.9,515.0 451.6,515.0" fill="#7a20c8"/>
<polygon points="462.9,341.3 466.4,332.6 466.4,515.0 462.9,515.0" fill="#5410a0"/>
<polygon points="451.6,342.6 462.9,341.3 466.4,332.6 455.1,333.9" fill="#9a38d8"/>
<polygon points="517.0,342.3 527.0,341.7 527.0,515.0 517.0,515.0" fill="#8a28d8"/>
<polygon points="527.0,341.7 530.2,332.9 530.2,515.0 527.0,515.0" fill="#4a0890"/>
<polygon points="517.0,342.3 527.0,341.7 530.2,332.9 520.2,333.5" fill="#d030e8"/>
<polygon points="483.0,344.8 493.6,344.1 493.6,515.0 483.0,515.0" fill="#7018c0"/>
<polygon points="493.6,344.1 496.2,335.0 496.2,515.0 493.6,515.0" fill="#4a0890"/>
<polygon points="483.0,344.8 493.6,344.1 496.2,335.0 485.6,335.7" fill="#f8d0ff"/>
<polygon points="406.8,346.5 417.0,346.9 417.0,515.0 406.8,515.0" fill="#8424d0"/>
<polygon points="417.0,346.9 419.6,338.1 419.6,515.0 417.0,515.0" fill="#4a0890"/>
<polygon points="406.8,346.5 417.0,346.9 419.6,338.1 409.4,337.7" fill="#d030e8"/>
<polygon points="434.8,347.2 445.1,345.7 445.1,515.0 434.8,515.0" fill="#6a14b8"/>
<polygon points="445.1,345.7 448.0,337.4 448.0,515.0 445.1,515.0" fill="#5c12a8"/>
<polygon points="434.8,347.2 445.1,345.7 448.0,337.4 437.7,338.9" fill="#d030e8"/>
<polygon points="504.2,346.3 514.4,346.9 514.4,515.0 504.2,515.0" fill="#8a28d8"/>
<polygon points="514.4,346.9 517.2,338.3 517.2,515.0 514.4,515.0" fill="#5c12a8"/>
<polygon points="504.2,346.3 514.4,346.9 517.2,338.3 507.0,337.7" fill="#e850f0"/>
<polygon points="482.6,347.4 493.7,348.6 493.7,515.0 482.6,515.0" fill="#7a20c8"/>
<polygon points="493.7,348.6 496.6,339.4 496.6,515.0 493.7,515.0" fill="#5410a0"/>
<polygon points="482.6,347.4 493.7,348.6 496.6,339.4 485.5,338.2" fill="#f0a0f8"/>
<polygon points="505.0,348.8 516.1,349.1 516.1,515.0 505.0,515.0" fill="#7a20c8"/>
<polygon points="516.1,349.1 518.8,340.4 518.8,515.0 516.1,515.0" fill="#5410a0"/>
<polygon points="505.0,348.8 516.1,349.1 518.8,340.4 507.7,340.1" fill="#e850f0"/>
<polygon points="468.5,351.8 479.5,351.4 479.5,515.0 468.5,515.0" fill="#8424d0"/>
<polygon points="479.5,351.4 482.5,342.2 482.5,515.0 479.5,515.0" fill="#5c12a8"/>
<polygon points="468.5,351.8 479.5,351.4 482.5,342.2 471.5,342.6" fill="#f8d0ff"/>
<polygon points="453.4,352.1 463.6,353.3 463.6,515.0 453.4,515.0" fill="#7a20c8"/>
<polygon points="463.6,353.3 467.0,344.1 467.0,515.0 463.6,515.0" fill="#4a0890"/>
<polygon points="453.4,352.1 463.6,353.3 467.0,344.1 456.8,342.9" fill="#d820e8"/>
<polygon points="419.5,352.8 430.1,354.2 430.1,515.0 419.5,515.0" fill="#8424d0"/>
<polygon points="430.1,354.2 432.7,345.8 432.7,515.0 430.1,515.0" fill="#5410a0"/>
<polygon points="419.5,352.8 430.1,354.2 432.7,345.8 422.1,344.4" fill="#f0a0f8"/>
<polygon points="490.7,354.7 502.0,354.5 502.0,515.0 490.7,515.0" fill="#8a28d8"/>
<polygon points="502.0,354.5 504.9,346.3 504.9,515.0 502.0,515.0" fill="#5410a0"/>
<polygon points="490.7,354.7 502.0,354.5 504.9,346.3 493.6,346.5" fill="#a040e0"/>
<polygon points="405.4,358.1 416.1,356.8 416.1,515.0 405.4,515.0" fill="#7a20c8"/>
<polygon points="416.1,356.8 418.6,347.5 418.6,515.0 416.1,515.0" fill="#4a0890"/>
<polygon points="405.4,358.1 416.1,356.8 418.6,347.5 407.9,348.8" fill="#e030f0"/>
<polygon points="435.4,358.8 446.4,360.3 446.4,515.0 435.4,515.0" fill="#8a28d8"/>
<polygon points="446.4,360.3 449.8,351.6 449.8,515.0 446.4,515.0" fill="#5c12a8"/>
<polygon points="435.4,358.8 446.4,360.3 449.8,351.6 438.8,350.1" fill="#d030e8"/>
<polygon points="474.1,361.7 485.5,360.5 485.5,515.0 474.1,515.0" fill="#7018c0"/>
<polygon points="485.5,360.5 488.5,351.1 488.5,515.0 485.5,515.0" fill="#5410a0"/>
<polygon points="474.1,361.7 485.5,360.5 488.5,351.1 477.1,352.3" fill="#e030f0"/>
<polygon points="458.1,361.9 468.5,362.0 468.5,515.0 458.1,515.0" fill="#8a28d8"/>
<polygon points="468.5,362.0 471.7,353.1 471.7,515.0 468.5,515.0" fill="#5410a0"/>
<polygon points="458.1,361.9 468.5,362.0 471.7,353.1 461.3,353.0" fill="#f040f8"/>
<polygon points="413.2,365.0 423.8,364.1 423.8,515.0 413.2,515.0" fill="#7018c0"/>
<polygon points="423.8,364.1 427.2,354.8 427.2,515.0 423.8,515.0" fill="#5c12a8"/>
<polygon points="413.2,365.0 423.8,364.1 427.2,354.8 416.6,355.7" fill="#e030f0"/>
<polygon points="428.7,369.0 439.6,369.0 439.6,515.0 428.7,515.0" fill="#8a28d8"/>
<polygon points="439.6,369.0 442.3,360.2 442.3,515.0 439.6,515.0" fill="#5410a0"/>
<polygon points="428.7,369.0 439.6,369.0 442.3,360.2 431.4,360.2" fill="#e020f0"/>
<polygon points="444.8,368.4 456.2,369.4 456.2,515.0 444.8,515.0" fill="#8a28d8"/>
<polygon points="456.2,369.4 459.2,360.8 459.2,515.0 456.2,515.0" fill="#4a0890"/>
<polygon points="444.8,368.4 456.2,369.4 459.2,360.8 447.8,359.8" fill="#e030f0"/>

<rect x="385" y="330" width="160" height="190" fill="url(#dkD)"/>
<g fill="#1c0858">
<rect x="442" y="489" width="2.5" height="27"/><rect x="459.5" y="489" width="3" height="27"/>
<rect x="471.5" y="489" width="4.5" height="27"/><rect x="486" y="489" width="2.5" height="27"/>
<rect x="500.5" y="489" width="2.5" height="27"/><rect x="510" y="489" width="3.5" height="27"/>
</g>
</g>
<!-- callout -->
<rect x="443.7" y="359.2" width="16" height="12.4" fill="none" stroke="#999" stroke-width="0.9"/>
<line x1="443.7" y1="371.6" x2="431" y2="385.4" stroke="#999" stroke-width="0.9"/>
<line x1="459.7" y1="371.6" x2="559" y2="385.4" stroke="#999" stroke-width="0.9"/>
<rect x="431" y="385.4" width="128" height="103.6" fill="#fff" stroke="#aaa" stroke-width="0.9"/>
<text x="436" y="396" font-size="9" fill="#111">4.8 nm inter-ribbon spacing</text>
<!-- inset ribbons -->
<polygon points="446.9,400.6 540.4,400.6 542.1,414.3 530.9,488 458.9,488 443.1,414.3" fill="#c49cec"/>
<polygon points="446.9,400.6 540.4,400.6 542.1,414.3 443.1,414.3" fill="#cfaef0"/>
<ellipse cx="502" cy="424" rx="20" ry="9" fill="#f0e4ff" opacity="0.7" filter="url(#b3)"/>
<polygon points="445,400.6 451,400.6 465.7,488 460.6,488" fill="#6a22c0"/>
<polygon points="449.4,400.6 457.2,400.6 471.7,488 465.7,488" fill="#3a70ea"/>
<polygon points="455.4,400.6 462.3,400.6 476.9,488 471.7,488" fill="#6a22c0"/>
<polygon points="472.6,400.6 475.2,400.6 483.7,488 481.2,488" fill="#6a22c0"/>
<polygon points="475.2,400.6 482.9,400.6 488,488 482.9,488" fill="#3a70ea"/>
<polygon points="482.9,400.6 486.3,400.6 489.8,488 487.2,488" fill="#6a22c0"/>
<polygon points="499.2,400.6 501.8,400.6 501.8,488 499.2,488" fill="#6a22c0"/>
<polygon points="501.8,400.6 508.6,400.6 506.9,488 501.8,488" fill="#3a80ee"/>
<polygon points="507.8,400.6 511.2,400.6 508.6,488 506,488" fill="#6a22c0"/>
<polygon points="523.2,400.6 527.5,400.6 518.9,488 515.5,488" fill="#6a22c0"/>
<polygon points="527.5,400.6 536.1,400.6 524,488 518.9,488" fill="#3a70ea"/>
<polygon points="535.2,400.6 540.4,400.6 527.5,488 524,488" fill="#6a22c0"/>
<polygon points="443.1,414.3 446.9,400.6 449,400.6 445.5,414.3 461,488 458.9,488" fill="#b088e0" opacity="0.6"/>
<g stroke="#111" stroke-width="0.8" fill="#111">
  <line x1="489" y1="443.3" x2="499" y2="443.3"/>
  <polygon points="488,443.3 490.5,441.8 490.5,444.8" stroke="none"/>
  <polygon points="500,443.3 497.5,441.8 497.5,444.8" stroke="none"/>
</g>
</svg>
</body></html>
